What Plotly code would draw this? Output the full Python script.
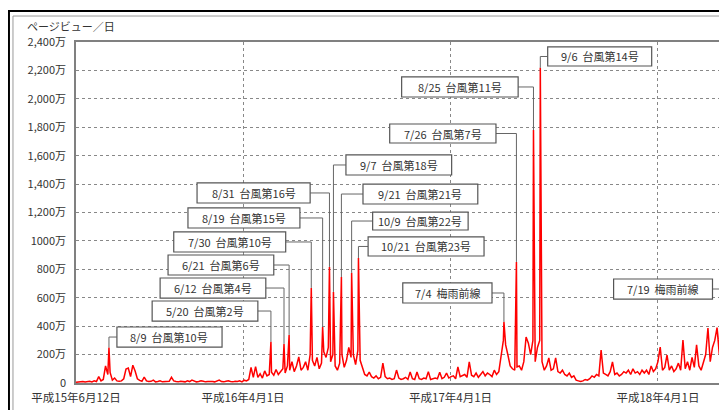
import pandas as pd
import plotly.graph_objects as go

# ---------------- data ----------------
START = "2003-06-12"
STEP_DAYS = 4
# baseline page views per day (万), one value every 4 days from START
baseline = [
    5, 8, 6, 10, 7, 9, 12, 8, 15, 10,
    45, 15, 25, 120, 60, 75, 20, 35, 15, 12,
    15, 30, 98, 105, 45, 125, 85, 30, 18, 12,
    42, 15, 10, 12, 20, 8, 10, 15, 8, 10,
    10, 12, 40, 15, 10, 8, 12, 10, 8, 15,
    10, 20, 12, 8, 10, 15, 12, 8, 10, 12,
    10, 8, 12, 20, 10, 8, 12, 15, 10, 8,
    12, 10, 15, 8, 20, 15, 25, 110, 40, 115,
    40, 65, 35, 85, 50, 60, 75, 55, 95, 60,
    80, 100, 70, 120, 90, 150, 80, 120, 183, 90,
    110, 150, 90, 200, 160, 120, 180, 100, 140, 220,
    180, 250, 150, 200, 120, 90, 140, 200, 110, 160,
    250, 180, 200, 130, 230, 160, 105, 60, 50, 77,
    45, 35, 50, 30, 40, 140, 45, 30, 35, 25,
    30, 91, 35, 25, 30, 40, 25, 77, 30, 25,
    77, 30, 25, 35, 30, 80, 25, 30, 35, 30,
    75, 30, 40, 70, 35, 45, 50, 30, 113, 45,
    50, 60, 40, 148, 55, 45, 70, 40, 60, 80,
    50, 70, 60, 45, 90, 60, 80, 200, 300, 268,
    197, 120, 100, 90, 113, 120, 90, 150, 324, 280,
    200, 300, 150, 250, 300, 150, 90, 120, 176, 90,
    100, 176, 80, 70, 90, 60, 50, 70, 40, 50,
    20, 15, 10, 15, 25, 20, 30, 50, 40, 60,
    50, 232, 70, 60, 50, 80, 148, 60, 70, 50,
    60, 80, 70, 90, 60, 100, 70, 80, 60, 90,
    70, 90, 60, 120, 80, 100, 150, 253, 90, 110,
    197, 90, 120, 80, 100, 140, 90, 303, 100, 150,
    90, 180, 110, 268, 120, 90, 150, 200, 387, 150,
    250, 300, 390, 200, 250, 80,
]

event_dates = [
    "2003-08-09", "2004-05-20", "2004-06-12", "2004-06-21", "2004-07-30",
    "2004-08-19", "2004-08-31", "2004-09-07", "2004-09-21", "2004-10-09",
    "2004-10-21", "2005-07-04", "2005-07-26", "2005-08-25", "2005-09-06",
    "2006-07-19",
]
event_values = [250, 290, 275, 338, 669, 394, 817, 641, 746, 775, 880,
                430, 852, 1780, 2218, 465]
event_labels = [
    "8/9  台風第10号", "5/20  台風第2号", "6/12  台風第4号", "6/21  台風第6号",
    "7/30  台風第10号", "8/19  台風第15号", "8/31  台風第16号", "9/7  台風第18号",
    "9/21  台風第21号", "10/9  台風第22号", "10/21  台風第23号", "7/4  梅雨前線",
    "7/26  台風第7号", "8/25  台風第11号", "9/6  台風第14号", "7/19  梅雨前線",
]

y_tickvals = [0, 200, 400, 600, 800, 1000, 1200, 1400, 1600, 1800, 2000, 2200, 2400]
y_ticktext = ["0", "200万", "400万", "600万", "800万", "1000万", "1,200万", "1,400万",
              "1,600万", "1,800万", "2,000万", "2,200万", "2,400万"]
x_tick_dates = ["2003-06-12", "2004-04-01", "2005-04-01", "2006-04-01"]
x_ticktext = ["平成15年6月12日", "平成16年4月1日", "平成17年4月1日", "平成18年4月1日"]
END = "2006-07-28"

# ---------------- layout helpers (positions only) ----------------
# label boxes in axis units: (x0 day, x1 day, y0, y1), side the leader leaves from
boxes = [
    (72, 257, 253, 394, "left"),
    (134, 320, 436, 577, "right"),
    (148, 334, 598, 739, "right"),
    (162, 348, 760, 901, "right"),
    (172, 369, 922, 1063, "right"),
    (197, 394, 1091, 1232, "right"),
    (213, 412, 1267, 1408, "right"),
    (475, 661, 1464, 1605, "left"),
    (505, 707, 1260, 1400, "left"),
    (522, 690, 1077, 1203, "left"),
    (514, 718, 894, 1028, "left"),
    (575, 732, 563, 704, "right"),
    (552, 739, 1689, 1823, "right"),
    (573, 778, 2013, 2154, "right"),
    (830, 1013, 2231, 2365, "left"),
    (946, 1120, 591, 732, "right"),
]

start = pd.Timestamp(START)
def dayoff(d):
    return (pd.Timestamp(d) - start).days

base_x = [i * STEP_DAYS for i in range(len(baseline))]
ev_x = [dayoff(d) for d in event_dates]
pts = sorted(list(zip(base_x, baseline)) + list(zip(ev_x, event_values)))
xs = [p[0] for p in pts]
ys = [p[1] for p in pts]

fig = go.Figure()
fig.add_trace(go.Scatter(x=xs, y=ys, mode="lines",
                         line=dict(color="#ff0000", width=1.5),
                         hoverinfo="skip", showlegend=False, cliponaxis=True))

shapes = []
annotations = []
line_col = "#666666"
for (x0, x1, y0, y1, side), lab, ex, ev in zip(boxes, event_labels, ev_x, event_values):
    ym = (y0 + y1) / 2
    xe = x0 if side == "left" else x1
    shapes.append(dict(type="path", xref="x", yref="y",
                       path=f"M {xe} {ym} L {ex} {ym} L {ex} {ev}",
                       line=dict(color=line_col, width=1)))
    shapes.append(dict(type="rect", xref="x", yref="y", x0=x0, x1=x1, y0=y0, y1=y1,
                       line=dict(color="#555555", width=1.2), fillcolor="white"))
    annotations.append(dict(x=(x0 + x1) / 2, y=ym, xref="x", yref="y", text=lab,
                            showarrow=False, font=dict(size=11, color="#333333")))

# outer frame (the page adds an 8px body margin)
shapes.append(dict(type="rect", xref="paper", yref="paper", x0=-0.1033, x1=1.05,
                   y0=-0.2, y1=1.0909, line=dict(color="black", width=2), layer="below"))
shapes.append(dict(type="rect", xref="paper", yref="paper", x0=-0.0971, x1=1.04,
                   y0=-0.19, y1=1.0762, line=dict(color="#999999", width=1), layer="below"))

annotations.append(dict(x=-0.0786, y=1.047, xref="paper", yref="paper",
                        text="ページビュー／日", showarrow=False, xanchor="left",
                        yanchor="middle", font=dict(size=11, color="#333333")))

fig.update_layout(
    width=727, height=410,
    margin=dict(l=68, r=10, t=34, b=35, autoexpand=False),
    paper_bgcolor="white", plot_bgcolor="white",
    font=dict(family="Noto Sans CJK JP", color="#333333"),
    shapes=shapes, annotations=annotations,
    xaxis=dict(range=[0, dayoff(END)], tickvals=[dayoff(d) for d in x_tick_dates],
               ticktext=x_ticktext, showgrid=True, gridcolor="#888888",
               griddash="dot", gridwidth=1, zeroline=False, automargin=False,
               showline=True, linecolor="#808080", linewidth=1.5, mirror=True,
               ticks="", ticklabelstandoff=3,
               tickfont=dict(size=11.5, color="#333333")),
    yaxis=dict(range=[0, 2400], tickvals=y_tickvals, ticktext=y_ticktext,
               showgrid=True, gridcolor="#888888", griddash="dot", gridwidth=1,
               zeroline=False, showline=True, linecolor="#808080", linewidth=1.5,
               mirror=True, ticks="", ticklabelstandoff=6, automargin=False,
               tickfont=dict(size=11, color="#333333")),
)

fig.write_html("out.html")
